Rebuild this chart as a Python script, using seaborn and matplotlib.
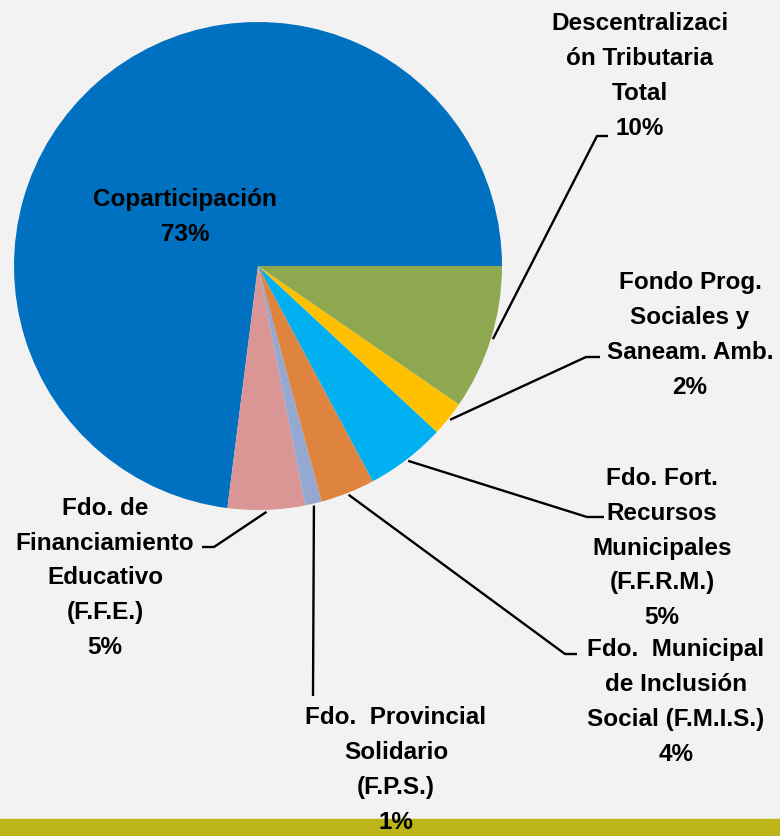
import numpy as np
import matplotlib
matplotlib.use("Agg")
import matplotlib.pyplot as plt
import seaborn as sns
from matplotlib.patches import Rectangle

# data, in the order matplotlib draws the wedges (counter-clockwise from 3 o'clock)
labels = [
    "Coparticipación",
    "Fdo. de\nFinanciamiento\nEducativo\n(F.F.E.)",
    "Fdo.  Provincial\nSolidario\n(F.P.S.)",
    "Fdo.  Municipal\nde Inclusión\nSocial (F.M.I.S.)",
    "Fdo. Fort.\nRecursos\nMunicipales\n(F.F.R.M.)",
    "Fondo Prog.\nSociales y\nSaneam. Amb.",
    "Descentralizaci\nón Tributaria\nTotal",
]
shares = [73.0, 5.1, 1.1, 3.6, 5.3, 2.3, 9.6]
colors = ["#0070C0", "#D99694", "#95A8D2", "#DE843F", "#00B0F0", "#FFC000", "#8EA84F"]

W, H = 780, 837

# label centre (px, y down) and leader elbow (px) per slice; None = label inside
label_pos = [(185, 217), (105, 578), (396, 770), (676, 702), (662, 548), (690, 335), (640, 76)]
elbows = [None, [(214, 548), (202, 548)], [(313, 697)], [(565, 655), (577, 655)],
          [(587, 518), (604, 518)], [(586, 358), (600, 358)], [(597, 137), (608, 137)]]

sns.set_theme(style="white")
plt.rcParams["font.family"] = ["Liberation Sans Narrow", "Liberation Sans", "DejaVu Sans"]

fig = plt.figure(figsize=(W / 100, H / 100), dpi=100)
fig.patch.set_facecolor("#F2F2F2")
ax = fig.add_axes([0, 0, 1, 1])
ax.set_facecolor("#F2F2F2")


def px(x, y):
    return x, H - y


cx, cy = px(258, 267)
radius = 244
wedges, _ = ax.pie(shares, colors=colors, startangle=0, counterclock=True,
                   center=(cx, cy), radius=radius, wedgeprops=dict(linewidth=0))

for i, w in enumerate(wedges):
    text = f"{labels[i]}\n{round(shares[i])}%"
    tx, ty = px(*label_pos[i])
    ax.text(tx, ty, text, ha="center", va="center", fontsize=17.5, fontweight="bold",
            color="black", linespacing=1.66, zorder=5)
    if elbows[i] is None:
        continue
    mid = np.deg2rad((w.theta1 + w.theta2) / 2)
    xs = [cx + (radius + 2) * np.cos(mid)]
    ys = [cy + (radius + 2) * np.sin(mid)]
    for ex, ey in elbows[i]:
        xs.append(ex)
        ys.append(H - ey)
    ax.plot(xs, ys, color="black", lw=1.7, solid_capstyle="butt", zorder=3)

ax.add_patch(Rectangle((0, 0), W, H - 820, color="#BDB518", zorder=4))
ax.set_xlim(0, W)
ax.set_ylim(0, H)
ax.set_aspect("equal")
ax.axis("off")

fig.savefig("out.png", dpi=100, facecolor=fig.get_facecolor())
